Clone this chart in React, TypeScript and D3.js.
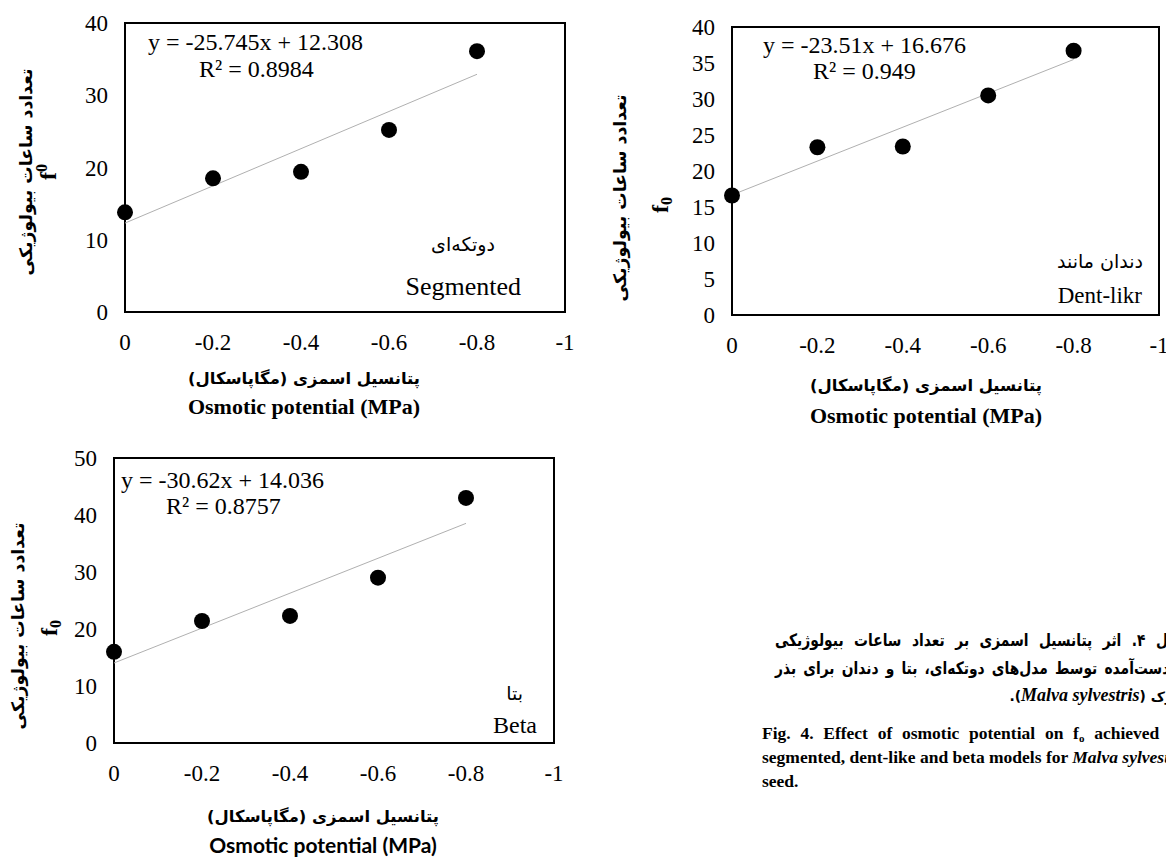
import { useEffect, useRef } from 'react';
import * as d3 from 'd3';

const WIDTH = 1166;
const HEIGHT = 859;

// osmotic potential (MPa)
const OSMOTIC = [0, -0.2, -0.4, -0.6, -0.8];
const X_TICKS = [0, -0.2, -0.4, -0.6, -0.8, -1];
const X_TICK_LABELS = ['0', '-0.2', '-0.4', '-0.6', '-0.8', '-1'];

// f0 per model
const SEGMENTED_F0 = [13.8, 18.5, 19.4, 25.2, 36.1];
const DENT_F0 = [16.6, 23.3, 23.4, 30.5, 36.7];
const BETA_F0 = [16.0, 21.4, 22.3, 29.0, 43.0];

// linear fits [slope, intercept] and R²
const SEGMENTED_FIT = [-25.745, 12.308];
const DENT_FIT = [-23.51, 16.676];
const BETA_FIT = [-30.62, 14.036];
const SEGMENTED_R2 = 0.8984;
const DENT_R2 = 0.949;
const BETA_R2 = 0.8757;

const SEGMENTED_Y_TICKS = [0, 10, 20, 30, 40];
const DENT_Y_TICKS = [0, 5, 10, 15, 20, 25, 30, 35, 40];
const BETA_Y_TICKS = [0, 10, 20, 30, 40, 50];

const Y_TITLE_FA = 'تعدادد ساعات بیولوژیکی';
const X_TITLE_FA = 'پتانسیل اسمزی (مگاپاسکال)';
const X_TITLE_EN = 'Osmotic potential (MPa)';

const CAPTION_FA = [
  'شکل ۴. اثر پتانسیل اسمزی بر تعداد ساعات بیولوژیکی',
  'به دست‌آمده توسط مدل‌های دوتکه‌ای، بتا و دندان برای بذر',
];

const SERIF = "'Liberation Serif', 'Times New Roman', serif";
const FA = "'DejaVu Sans', sans-serif";

const panels = [
  {
    values: SEGMENTED_F0, fit: SEGMENTED_FIT, r2: SEGMENTED_R2, yTicks: SEGMENTED_Y_TICKS,
    left: 125, right: 565, top: 23, bottom: 312,
    eq: [148, 50], r2Pos: [199, 77],
    fa: 'دوتکه‌ای', faPos: [463, 251], faAnchor: 'middle', en: 'Segmented', enPos: [521, 295], enSize: 26,
    xTitleX: 304, faTitleY: 378, enTitleY: 406, enSans: false,
    yTitleX: 26, yTitleY: 172, f0X: 48, f0Y: 172, f0Super: true,
  },
  {
    values: DENT_F0, fit: DENT_FIT, r2: DENT_R2, yTicks: DENT_Y_TICKS,
    left: 732, right: 1159, top: 27, bottom: 315,
    eq: [763, 53], r2Pos: [813, 79],
    fa: 'دندان مانند', faPos: [1143, 268], faAnchor: 'start', en: 'Dent-likr', enPos: [1142, 303], enSize: 23,
    xTitleX: 926, faTitleY: 385, enTitleY: 415, enSans: false,
    yTitleX: 620, yTitleY: 198, f0X: 660, f0Y: 205, f0Super: false,
  },
  {
    values: BETA_F0, fit: BETA_FIT, r2: BETA_R2, yTicks: BETA_Y_TICKS,
    left: 114, right: 554, top: 458, bottom: 743,
    eq: [121, 488], r2Pos: [166, 514],
    fa: 'بتا', faPos: [523, 700], faAnchor: 'start', en: 'Beta', enPos: [537, 733], enSize: 24,
    xTitleX: 323, faTitleY: 816, enTitleY: 844, enSans: true,
    yTitleX: 18, yTitleY: 626, f0X: 49, f0Y: 628, f0Super: false,
  },
];

function fitWidth(sel: any, target: number) {
  const w = (sel.node() as SVGTextElement).getComputedTextLength();
  const fs = parseFloat(sel.attr('font-size'));
  if (w > 0) sel.attr('font-size', (fs * target) / w);
}

function justify(sel: any, target: number, spaces: number) {
  const w = (sel.node() as SVGTextElement).getComputedTextLength();
  if (w > 0 && spaces > 0) sel.attr('word-spacing', (target - w) / spaces);
}

export default function App() {
  const svgRef = useRef<SVGSVGElement>(null);

  useEffect(() => {
    if (!svgRef.current) return;
    const svg = d3.select(svgRef.current);
    svg.selectAll('*').remove();

    svg.append('rect').attr('width', WIDTH).attr('height', HEIGHT).attr('fill', '#fff');

    panels.forEach((p) => {
      const x = d3.scaleLinear().domain([0, -1]).range([p.left, p.right]);
      const y = d3.scaleLinear().domain([0, d3.max(p.yTicks)!]).range([p.bottom, p.top]);
      const g = svg.append('g');

      // plot frame
      g.append('rect')
        .attr('x', p.left)
        .attr('y', p.top)
        .attr('width', p.right - p.left)
        .attr('height', p.bottom - p.top)
        .attr('fill', 'none')
        .attr('stroke', '#000')
        .attr('stroke-width', 2);

      // trend line over the data range
      const [xMax, xMin] = d3.extent(OSMOTIC) as [number, number];
      const line = d3.line<number>().x((d) => x(d)).y((d) => y(p.fit[0] * d + p.fit[1]));
      g.append('path')
        .attr('d', line([xMin, xMax]))
        .attr('stroke', '#b0b0b0')
        .attr('stroke-width', 1)
        .attr('fill', 'none');

      g.selectAll('circle')
        .data(p.values)
        .join('circle')
        .attr('cx', (_, i) => x(OSMOTIC[i]))
        .attr('cy', (d) => y(d))
        .attr('r', 8)
        .attr('fill', '#000');

      // tick labels
      g.selectAll('text.yt')
        .data(p.yTicks)
        .join('text')
        .attr('class', 'yt')
        .attr('x', p.left - 17)
        .attr('y', (d) => y(d) + 8)
        .attr('text-anchor', 'end')
        .attr('font-family', SERIF)
        .attr('font-size', 23)
        .text((d) => d);

      g.selectAll('text.xt')
        .data(X_TICKS)
        .join('text')
        .attr('class', 'xt')
        .attr('x', (d) => x(d))
        .attr('y', p.bottom + 38)
        .attr('text-anchor', 'middle')
        .attr('font-family', SERIF)
        .attr('font-size', 23)
        .text((_, i) => X_TICK_LABELS[i]);

      // equation + R²
      g.append('text')
        .attr('x', p.eq[0])
        .attr('y', p.eq[1])
        .attr('font-family', SERIF)
        .attr('font-size', 24)
        .text(`y = ${p.fit[0]}x + ${p.fit[1]}`);
      g.append('text')
        .attr('x', p.r2Pos[0])
        .attr('y', p.r2Pos[1])
        .attr('font-family', SERIF)
        .attr('font-size', 24)
        .text(`R² = ${p.r2}`);

      // model name
      g.append('text')
        .attr('x', p.faPos[0])
        .attr('y', p.faPos[1])
        .attr('direction', 'rtl')
        .attr('text-anchor', p.faAnchor)
        .attr('font-family', FA)
        .attr('font-size', 19)
        .text(p.fa);
      g.append('text')
        .attr('x', p.enPos[0])
        .attr('y', p.enPos[1])
        .attr('text-anchor', 'end')
        .attr('font-family', SERIF)
        .attr('font-size', p.enSize)
        .text(p.en);

      // axis titles
      const fx = g.append('text')
        .attr('x', p.xTitleX)
        .attr('y', p.faTitleY)
        .attr('direction', 'rtl')
        .attr('text-anchor', 'middle')
        .attr('dominant-baseline', 'central')
        .attr('font-family', FA)
        .attr('font-weight', 'bold')
        .attr('font-size', 17)
        .text(X_TITLE_FA);
      fitWidth(fx, 232);

      g.append('text')
        .attr('x', p.xTitleX)
        .attr('y', p.enTitleY)
        .attr('text-anchor', 'middle')
        .attr('dominant-baseline', 'central')
        .attr('font-family', p.enSans ? "Lato, 'Open Sans', sans-serif" : SERIF)
        .attr('font-weight', 'bold')
        .attr('font-size', p.enSans ? 21 : 22)
        .text(X_TITLE_EN);

      const fy = g.append('text')
        .attr('transform', `translate(${p.yTitleX},${p.yTitleY}) rotate(-90)`)
        .attr('direction', 'rtl')
        .attr('text-anchor', 'middle')
        .attr('dominant-baseline', 'central')
        .attr('font-family', FA)
        .attr('font-weight', 'bold')
        .attr('font-size', 17)
        .text(Y_TITLE_FA);
      fitWidth(fy, 207);

      const f0 = g.append('text')
        .attr('transform', `translate(${p.f0X},${p.f0Y}) rotate(-90)`)
        .attr('text-anchor', 'middle')
        .attr('dominant-baseline', 'central')
        .attr('font-family', SERIF)
        .attr('font-weight', 'bold')
        .attr('font-size', 24);
      f0.append('tspan').text('f');
      f0.append('tspan')
        .attr('font-size', 16)
        .attr('dy', p.f0Super ? -7 : 6)
        .text('0');
    });

    // caption (Persian, right-to-left, runs off the right edge)
    // DejaVu is much wider than the original face, so squeeze it horizontally
    const faRight = 1190;
    const faLeft = 775;
    const faYs = [646, 674, 701];
    const faSize = 17;
    const faLines = CAPTION_FA.map((t, i) =>
      svg.append('text')
        .attr('x', 0)
        .attr('y', 0)
        .attr('direction', 'rtl')
        .attr('text-anchor', 'start')
        .attr('font-family', FA)
        .attr('font-weight', 'bold')
        .attr('font-size', faSize)
        .text(t)
    );
    const natural = (faLines[1].node() as SVGTextElement).getComputedTextLength();
    const squeeze = Math.min(1, ((faRight - faLeft) * 0.95) / natural);
    faLines.forEach((s, i) => {
      s.attr('transform', `translate(${faRight},${faYs[i]}) scale(${squeeze},1)`);
      justify(s, (faRight - faLeft) / squeeze, CAPTION_FA[i].split(' ').length - 1);
    });

    const fa3 = svg.append('text')
      .attr('x', faRight)
      .attr('y', faYs[2])
      .attr('direction', 'rtl')
      .attr('text-anchor', 'start')
      .attr('font-weight', 'bold')
      .attr('font-size', 18);
    fa3.append('tspan').attr('font-family', FA).attr('font-size', faSize * squeeze).text('پنیرک (');
    fa3.append('tspan').attr('font-family', SERIF).attr('font-style', 'italic').text('Malva sylvestris');
    fa3.append('tspan').attr('font-family', FA).attr('font-size', faSize * squeeze).text(').');

    // caption (English)
    const enX = 762;
    const enYs = [739, 763, 787];
    const en2 = svg.append('text')
      .attr('x', enX)
      .attr('y', enYs[1])
      .attr('font-family', SERIF)
      .attr('font-weight', 'bold')
      .attr('font-size', 17.5);
    en2.append('tspan').text('segmented, dent-like and beta models for ');
    en2.append('tspan').attr('font-style', 'italic').text('Malva sylvestris');
    const w2 = (en2.node() as SVGTextElement).getComputedTextLength();

    const en1 = svg.append('text')
      .attr('x', enX)
      .attr('y', enYs[0])
      .attr('font-family', SERIF)
      .attr('font-weight', 'bold')
      .attr('font-size', 17.5);
    en1.append('tspan').text('Fig. 4. Effect of osmotic potential on f');
    en1.append('tspan').attr('font-size', 11).attr('dy', 3).text('o');
    en1.append('tspan').attr('dy', -3).text(' achieved by');
    justify(en1, w2, 9);

    svg.append('text')
      .attr('x', enX)
      .attr('y', enYs[2])
      .attr('font-family', SERIF)
      .attr('font-weight', 'bold')
      .attr('font-size', 17.5)
      .text('seed.');
  }, []);

  return (
    <svg
      ref={svgRef}
      width={WIDTH}
      height={HEIGHT}
      style={{ position: 'absolute', left: 0, top: 0, display: 'block' }}
    />
  );
}
